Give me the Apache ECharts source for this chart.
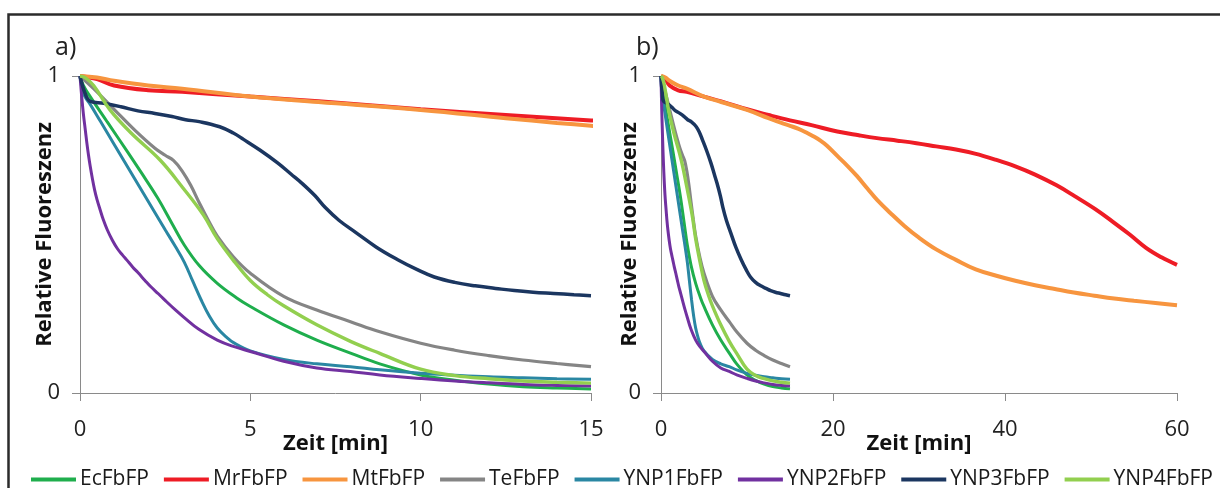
<!DOCTYPE html>
<html>
<head>
<meta charset="utf-8">
<script src="https://cdn.jsdelivr.net/npm/echarts@6/dist/echarts.min.js"></script>
<style>
html,body{margin:0;padding:0;background:#fff;}
#chart{width:1220px;height:488px;}
</style>
</head>
<body>
<div id="chart"></div>
<script>
// ---- data (time in min, relative fluorescence) ----
const seriesNames = ['EcFbFP','MrFbFP','MtFbFP','TeFbFP','YNP1FbFP','YNP2FbFP','YNP3FbFP','YNP4FbFP'];

const ecT = [0,0.1,0.3,0.8,1.4,1.8,2.28,2.7,3.06,3.5,4.03,4.6,5,5.98,6.95,7.94,8.8,10,11,12,13,14,15];
const ecV = [1,0.97,0.935,0.855,0.76,0.695,0.615,0.535,0.467,0.402,0.346,0.30,0.273,0.215,0.167,0.126,0.092,0.057,0.040,0.028,0.020,0.016,0.013];

const mrT = [0,0.5,1,2,3,5,7,10,12.5,15,17.5,20.5,23,25.1,27.5,29.7,32,34.3,36.5,38.9,41.2,43.5,46,48.1,50.5,52.7,54.5,56.4,58.2,60];
const mrV = [1,0.99,0.97,0.955,0.95,0.935,0.92,0.895,0.877,0.86,0.845,0.825,0.813,0.804,0.796,0.788,0.778,0.768,0.755,0.736,0.715,0.689,0.655,0.621,0.58,0.537,0.5,0.458,0.428,0.404];

const mtT = [0,0.5,1,2,3,5,7,10,12.5,14,15,16,17,17.7,18.5,19.3,20.5,21.7,22.8,24,25.1,26.7,28.3,30,32,34.3,36.6,39,41.2,43.5,45.8,48,50.4,52.7,55,57.5,60];
const mtV = [1,0.995,0.985,0.97,0.96,0.935,0.918,0.893,0.867,0.852,0.843,0.833,0.82,0.81,0.797,0.78,0.748,0.716,0.684,0.645,0.61,0.567,0.527,0.49,0.453,0.42,0.39,0.37,0.354,0.34,0.328,0.317,0.307,0.298,0.291,0.284,0.277];

const teT = [0,0.4,1.0,1.6,2.2,2.5,2.75,3.0,3.25,3.5,3.75,4.03,4.5,5,5.98,6.95,7.94,8.8,10,11,12,13,14,15];
const teV = [1,0.96,0.895,0.83,0.772,0.75,0.733,0.7,0.655,0.6,0.548,0.495,0.43,0.378,0.305,0.262,0.225,0.193,0.157,0.135,0.118,0.104,0.093,0.083];

const y1T = [0,0.05,0.1,0.2,0.29,0.6,1,1.5,2,2.5,2.8,3.06,3.3,3.55,3.8,4.03,4.3,4.52,5,5.98,6.95,7.94,8.8,10,11,12,13,14,15];
const y1V = [1,0.965,0.945,0.925,0.912,0.857,0.785,0.695,0.605,0.515,0.462,0.413,0.355,0.295,0.242,0.205,0.176,0.158,0.133,0.106,0.092,0.083,0.073,0.062,0.056,0.051,0.048,0.045,0.043];

const y2T = [0,0.05,0.1,0.15,0.2,0.25,0.3,0.36,0.43,0.5,0.6,0.68,0.8,0.95,1.1,1.25,1.37,1.55,1.7,1.9,2.08,2.3,2.5,2.8,3.06,3.5,4.03,4.5,5,5.98,6.95,7.94,8.8,10,11,12,13,14,15];
const y2V = [1,0.935,0.88,0.835,0.79,0.75,0.715,0.678,0.64,0.61,0.575,0.548,0.515,0.482,0.455,0.435,0.42,0.397,0.38,0.356,0.335,0.313,0.292,0.262,0.238,0.2,0.167,0.147,0.131,0.1,0.079,0.068,0.057,0.046,0.038,0.032,0.027,0.024,0.022];

const y3T = [0,0.15,0.3,0.7,1.2,1.7,2.2,2.7,3.1,3.5,4.1,4.5,4.8,5.3,5.8,6.2,6.5,6.9,7.2,7.6,8.1,8.7,9.3,9.9,10.4,11,11.6,12.2,12.75,13.3,13.9,14.5,15];
const y3V = [1,0.945,0.92,0.914,0.903,0.89,0.882,0.872,0.862,0.856,0.84,0.82,0.80,0.765,0.726,0.69,0.663,0.622,0.585,0.545,0.506,0.46,0.422,0.389,0.366,0.349,0.338,0.33,0.323,0.318,0.314,0.31,0.307];

const y4T = [0,0.15,0.4,0.88,1.5,2.35,3.0,3.62,4.03,4.55,5,5.5,5.98,6.95,7.94,8.8,10,11,12,13,14,15];
const y4V = [1,0.995,0.97,0.893,0.82,0.735,0.65,0.562,0.487,0.412,0.355,0.31,0.275,0.215,0.163,0.125,0.075,0.055,0.045,0.038,0.034,0.031];

const xTicksA = [0,5,10,15];
const xTicksB = [0,20,40,60];
const yTicks = [0,1];

// ---- styling ----
const colors = {
  EcFbFP:'#1fae4d', MrFbFP:'#ee1c25', MtFbFP:'#f7953f', TeFbFP:'#858585',
  YNP1FbFP:'#2a87a3', YNP2FbFP:'#7131a0', YNP3FbFP:'#1b3660', YNP4FbFP:'#92cf4f'
};
const widths = {EcFbFP:3, MrFbFP:4, MtFbFP:4, TeFbFP:3.2, YNP1FbFP:3, YNP2FbFP:3, YNP3FbFP:3.5, YNP4FbFP:3.4};
const raw = {
  EcFbFP:[ecT,ecV], MrFbFP:[mrT,mrV], MtFbFP:[mtT,mtV], TeFbFP:[teT,teV],
  YNP1FbFP:[y1T,y1V], YNP2FbFP:[y2T,y2V], YNP3FbFP:[y3T,y3V], YNP4FbFP:[y4T,y4V]
};
function pairs(name){ const [t,v]=raw[name]; return t.map((x,i)=>[x,v[i]]); }

const FONT = '"Open Sans"';
const gridTop = 76, gridBottom = 95;

function xAxis(idx, max, interval, gap){
  return {
    gridIndex: idx, type:'value', min:0, max:max, interval:interval,
    name:'Zeit [min]', nameLocation:'middle', nameGap:gap, nameMoveOverlap:false,
    nameTextStyle:{fontFamily:FONT, fontWeight:'bold', fontSize:22, color:'#111'},
    axisLine:{show:true, lineStyle:{color:'#8a8a8a', width:1}},
    axisTick:{show:true, length:8, lineStyle:{color:'#8a8a8a'}},
    axisLabel:{fontFamily:FONT, fontSize:22, color:'#222', margin:26},
    splitLine:{show:false}
  };
}
function yAxis(idx, gap){
  return {
    gridIndex: idx, type:'value', min:yTicks[0], max:yTicks[1], interval:1,
    name:'Relative Fluoreszenz', nameLocation:'middle', nameGap:gap, nameMoveOverlap:false,
    nameTextStyle:{fontFamily:FONT, fontWeight:'bold', fontSize:22, color:'#111'},
    axisLine:{show:true, lineStyle:{color:'#8a8a8a', width:1}},
    axisTick:{show:true, length:8, lineStyle:{color:'#8a8a8a'}},
    axisLabel:{fontFamily:FONT, fontSize:22, color:'#222', margin:20},
    splitLine:{show:false}
  };
}

const series = [];
[0,1].forEach(g=>{
  seriesNames.forEach(n=>{
    series.push({
      name:n, type:'line', xAxisIndex:g, yAxisIndex:g,
      data:pairs(n), showSymbol:false, symbol:'none',
      smooth:0.4, clip:true,
      lineStyle:{color:colors[n], width:widths[n]},
      itemStyle:{color:colors[n]},
      emphasis:{disabled:true}, animation:false
    });
  });
});

const chart = echarts.init(document.getElementById('chart'), null, {renderer:'canvas'});
chart.setOption({
  backgroundColor:'#fff',
  animation:false,
  grid:[
    {left:80, right:1220-591, top:gridTop, bottom:gridBottom},
    {left:661, right:1220-1177, top:gridTop, bottom:gridBottom}
  ],
  xAxis:[xAxis(0,15,5,40), xAxis(1,60,20,40)],
  yAxis:[yAxis(0,24), yAxis(1,20)],
  legend:{
    data:seriesNames, left:26, top:464, itemWidth:45, itemHeight:4, itemGap:15,
    icon:'rect', textStyle:{fontFamily:FONT, fontSize:21, color:'#1a1a1a', padding:[0,0,0,-1]}
  },
  graphic:[
    {type:'rect', shape:{x:8.5, y:14.5, width:1240, height:520}, style:{fill:'none', stroke:'#2b2b2b', lineWidth:2.5}, silent:true},
    {type:'text', left:55, top:35, style:{text:'a)', font:'25px "Open Sans"', fill:'#222'}},
    {type:'text', left:636, top:35, style:{text:'b)', font:'25px "Open Sans"', fill:'#222'}}
  ],
  series:series
});
</script>
</body>
</html>
